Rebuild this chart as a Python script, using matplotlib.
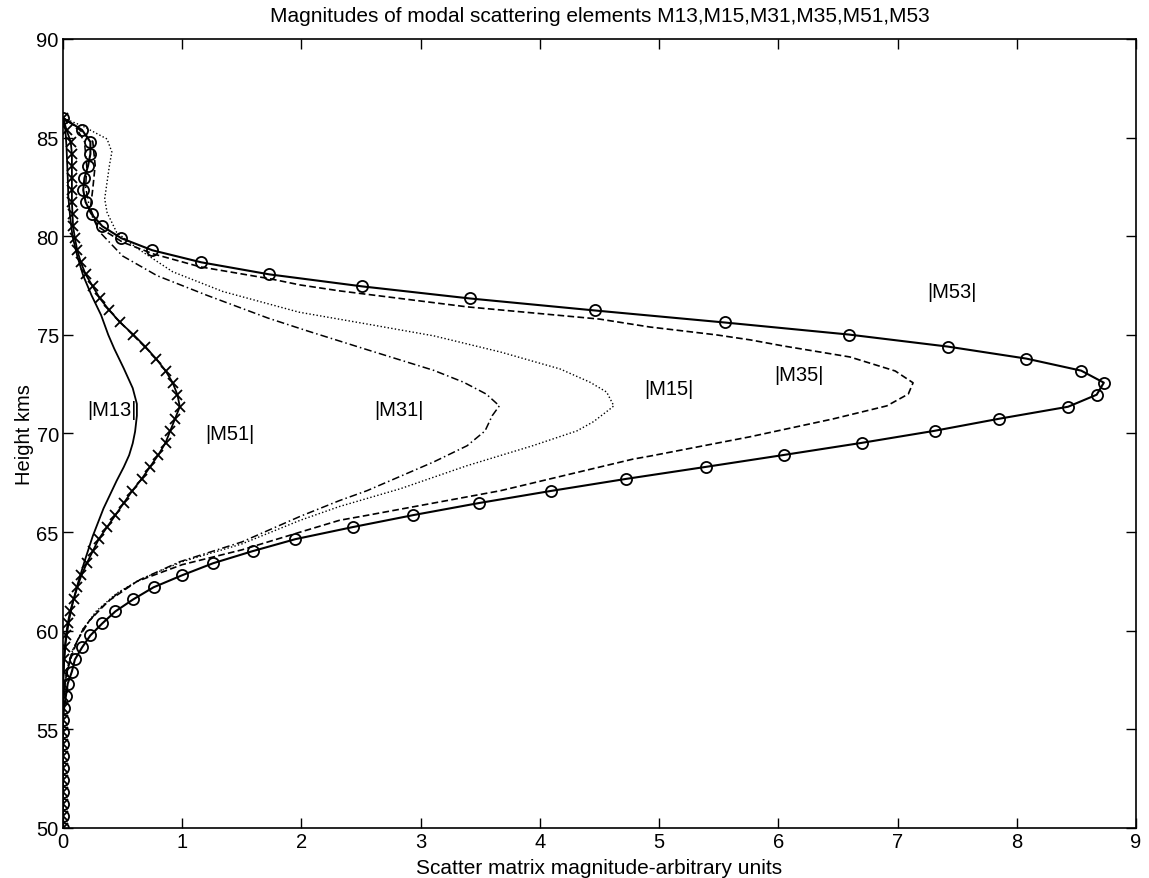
import numpy as np
import matplotlib
matplotlib.use("Agg")
import matplotlib.pyplot as plt

plt.rcParams['font.family'] = ['Liberation Sans', 'DejaVu Sans']

# heights of the marked profiles (60 samples, 50..86 km)
grid_h = np.linspace(50, 86, 60)

m53 = [0, 0, 0, 0, 0, 0, 0, 0, 0, 0,
       0.01, 0.025, 0.04, 0.075, 0.10, 0.16, 0.23, 0.33, 0.44, 0.59,
       0.76, 1.0, 1.26, 1.59, 1.95, 2.43, 2.94, 3.49, 4.09, 4.72,
       5.39, 6.05, 6.70, 7.31, 7.85, 8.43, 8.67, 8.73, 8.54, 8.08,
       7.42, 6.59, 5.55, 4.46, 3.41, 2.51, 1.73, 1.16, 0.75, 0.49,
       0.33, 0.24, 0.19, 0.17, 0.18, 0.21, 0.23, 0.23, 0.16, 0]

m51 = [0, 0, 0, 0, 0, 0, 0, 0, 0, 0, 0, 0, 0,
       0.005, 0.01, 0.015, 0.025, 0.04, 0.06, 0.09, 0.12, 0.155, 0.20,
       0.25, 0.30, 0.37, 0.44, 0.51, 0.58, 0.66, 0.73, 0.80, 0.86,
       0.90, 0.94, 0.98, 0.96, 0.92, 0.86, 0.78, 0.69, 0.59, 0.48,
       0.39, 0.31, 0.25, 0.19, 0.15, 0.12, 0.10, 0.085, 0.08, 0.075,
       0.075, 0.075, 0.075, 0.075, 0.065, 0.03, 0]

# unmarked profiles, read point by point
m13_h = [50, 56, 57.5, 58.5, 59.5, 60.5, 61.5, 62.5, 63.5, 64.8, 66.2, 67.6,
         68.3, 68.9, 69.5, 70.1, 70.9, 71.5, 72.3, 73.3, 74.3, 75.0, 76.0,
         77.0, 78.0, 79.0, 80.0, 81.0, 82.0, 83.0, 84.5, 85.4, 86.0]
m13 = [0, 0, 0.003, 0.01, 0.025, 0.05, 0.085, 0.13, 0.18, 0.25, 0.34, 0.45,
       0.51, 0.555, 0.585, 0.605, 0.62, 0.62, 0.585, 0.51, 0.43, 0.38, 0.32,
       0.24, 0.17, 0.12, 0.08, 0.06, 0.045, 0.04, 0.03, 0.02, 0]

m15_h = [50, 56, 57.0, 58.0, 59.0, 60.1, 61.0, 61.9, 62.6, 63.5, 64.4, 65.6,
         66.3, 67.2, 68.37, 69.38, 70.13, 70.6, 71.25, 71.4, 72.1, 72.6,
         73.27, 74.13, 74.95, 75.55, 76.15, 77.2, 78.2, 79.4, 80.2,
         81.2, 81.9, 82.75, 83.6, 84.27, 84.93, 85.6, 86.0]
m15 = [0, 0, 0.01, 0.03, 0.08, 0.17, 0.28, 0.45, 0.65, 1.0, 1.5, 1.99,
       2.32, 2.83, 3.39, 3.94, 4.31, 4.45, 4.59, 4.62, 4.56, 4.42,
       4.17, 3.67, 3.11, 2.55, 1.98, 1.34, 0.92, 0.62, 0.45,
       0.37, 0.35, 0.37, 0.39, 0.41, 0.37, 0.16, 0]

m31_h = [50, 56, 57.0, 58.0, 59.0, 60.1, 61.0, 61.9, 62.6, 63.5, 64.5,
         65.8, 66.6, 67.1, 68.56, 69.38, 70.13, 70.9, 71.4, 72.0, 72.6,
         73.2, 74.25, 75.2, 75.85, 77.0, 78.0, 79.0, 80.2, 81.2, 82.5,
         83.5, 84.8, 85.6, 86.0]
m31 = [0, 0, 0.01, 0.035, 0.08, 0.17, 0.29, 0.46, 0.65, 0.98, 1.5,
       1.99, 2.32, 2.55, 3.11, 3.39, 3.54, 3.60, 3.66, 3.55, 3.36,
       3.11, 2.55, 2.05, 1.72, 1.21, 0.79, 0.50, 0.31, 0.23, 0.19,
       0.20, 0.18, 0.10, 0]

m35_h = [50, 55.5, 56.5, 57.5, 58.5, 59.5, 60.5, 61.5, 62.5, 63.35, 64.1,
         65.0, 65.6, 65.85, 67.1, 68.7, 68.85, 69.83, 70.74, 71.4, 72.0,
         72.57, 73.17, 73.88, 74.44, 74.75, 75.0, 75.4, 75.8, 76.42, 77.23,
         77.53, 77.84, 78.45, 79.1, 79.7, 80.5, 81.4, 82.4, 83.6, 84.8,
         85.5, 86.0]
m35 = [0, 0, 0.005, 0.02, 0.06, 0.12, 0.22, 0.38, 0.62, 1.0, 1.5,
       1.99, 2.32, 2.55, 3.67, 4.78, 4.92, 5.76, 6.46, 6.91, 7.09,
       7.13, 6.98, 6.60, 6.04, 5.76, 5.48, 4.92, 4.50, 3.39, 2.32,
       1.99, 1.74, 1.15, 0.76, 0.50, 0.29, 0.23, 0.25, 0.27, 0.25,
       0.12, 0]

labels = ['|M13|', '|M51|', '|M31|', '|M15|', '|M35|', '|M53|']
label_x = [0.41, 1.40, 2.82, 5.08, 6.17, 7.46]
label_y = [71.2, 70.0, 71.2, 72.3, 73.0, 77.2]

fig = plt.figure(figsize=(11.49, 8.79), dpi=100)
ax = fig.add_axes([0.0548, 0.0569, 0.9339, 0.8976])

ax.plot(m13, m13_h, color='black', linewidth=1.3)
ax.plot(m51, grid_h, color='black', linewidth=1.3, marker='x', markersize=6.5,
        markeredgewidth=1.3)
ax.plot(m31, m31_h, color='black', linewidth=1.1, linestyle=(0, (5, 2, 1, 2)))
ax.plot(m15, m15_h, color='black', linewidth=1.0, linestyle=(0, (1, 1.6)))
ax.plot(m35, m35_h, color='black', linewidth=1.2, linestyle=(0, (4, 2)))
ax.plot(m53, grid_h, color='black', linewidth=1.5, marker='o', markersize=8,
        markerfacecolor='none', markeredgewidth=1.3)

for t, x, y in zip(labels, label_x, label_y):
    ax.text(x, y, t, fontsize=14.5, ha='center', va='center')

ax.set_xlim(0, 9)
ax.set_ylim(50, 90)
ax.set_xticks(range(0, 10))
ax.set_yticks(range(50, 91, 5))
ax.tick_params(direction='in', length=7, width=1, top=True, right=True,
               labelsize=14.5, pad=3)
for s in ax.spines.values():
    s.set_linewidth(1.2)

ax.set_title('Magnitudes of modal scattering elements M13,M15,M31,M35,M51,M53',
             fontsize=15, pad=13)
ax.set_xlabel('Scatter matrix magnitude-arbitrary units', fontsize=15, labelpad=5)
ax.set_ylabel('Height kms', fontsize=14.5, labelpad=2)

fig.savefig('out.png', dpi=100)
